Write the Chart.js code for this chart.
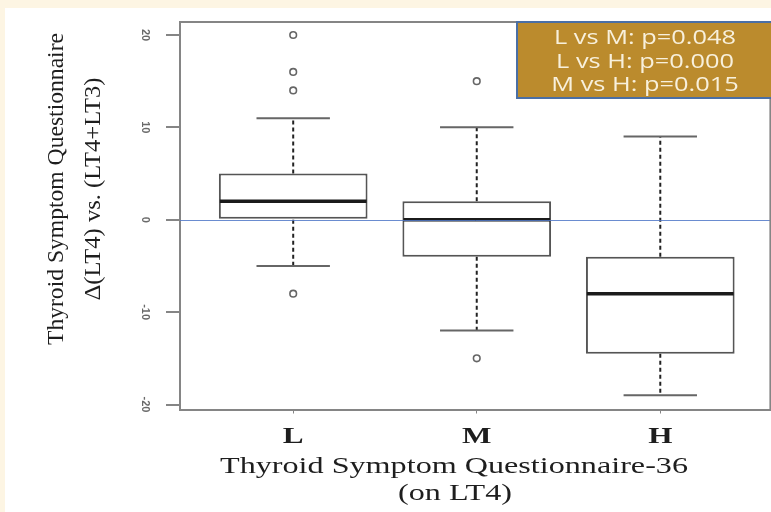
<!DOCTYPE html>
<html>
<head>
<meta charset="utf-8">
<script src="https://cdn.jsdelivr.net/npm/chart.js@4"></script>
<style>
  html, body { margin: 0; padding: 0; background: #fdf5e3; overflow: hidden; width: 771px; height: 512px; }
  canvas { display: block; }
</style>
</head>
<body>
<canvas id="chart" width="776" height="512"></canvas>
<script>
// Groups of the Thyroid Symptom Questionnaire-36 score (on LT4)
const categories = ['L', 'M', 'H'];
const groupPositions = [1, 2, 3];

// Five-number summaries of the change, LT4 vs. LT4+LT3
const whiskerLow  = [-5, -12, -19];
const quartile1   = [0, -4, -14.5];
const medians     = [2, 0, -8];
const quartile3   = [5, 2, -4];
const whiskerHigh = [11, 10, 9];

// Outlying observations per group
const outlierGroups = ['L', 'L', 'L', 'L', 'M', 'M'];
const outlierValues = [20, 16, 14, -8, 15, -15];

// Axis ticks
const yTickValues = [-20, -10, 0, 10, 20];

// Pairwise comparisons
const comparisonLabels = ['L vs M: p=0.048', 'L vs H: p=0.000', 'M vs H: p=0.015'];

const boxData = groupPositions.map((x, i) => ({ x: x, y: [quartile1[i], quartile3[i]] }));
const outlierData = outlierGroups.map((g, i) => ({ x: groupPositions[categories.indexOf(g)], y: outlierValues[i] }));

const AXIS_GRAY = '#858585';

function stretchedText(ctx, text, x, y, targetWidth) {
  const w = ctx.measureText(text).width;
  const sx = targetWidth ? targetWidth / w : 1;
  ctx.save();
  ctx.translate(x, y);
  ctx.scale(sx, 1);
  ctx.fillText(text, 0, 0);
  ctx.restore();
}

const pagePlugin = {
  id: 'page',
  beforeDraw(chart) {
    const ctx = chart.ctx;
    ctx.save();
    ctx.fillStyle = '#fdf5e3';
    ctx.fillRect(0, 0, chart.width, chart.height);
    ctx.fillStyle = '#ffffff';
    ctx.fillRect(5, 8, chart.width - 5, chart.height - 8);
    ctx.restore();
  }
};

const boxPlotPlugin = {
  id: 'boxParts',
  beforeDatasetsDraw(chart) {
    const { ctx, scales: { x, y } } = chart;
    ctx.save();
    groupPositions.forEach((pos, i) => {
      const cx = x.getPixelForValue(pos);
      const capL = x.getPixelForValue(pos - 0.2);
      const capR = x.getPixelForValue(pos + 0.2);
      // dashed whiskers
      ctx.strokeStyle = '#222';
      ctx.lineWidth = 2;
      ctx.setLineDash([4, 3]);
      ctx.beginPath();
      ctx.moveTo(cx, y.getPixelForValue(quartile3[i]));
      ctx.lineTo(cx, y.getPixelForValue(whiskerHigh[i]));
      ctx.moveTo(cx, y.getPixelForValue(quartile1[i]));
      ctx.lineTo(cx, y.getPixelForValue(whiskerLow[i]));
      ctx.stroke();
      // whisker caps
      ctx.setLineDash([]);
      ctx.strokeStyle = '#666';
      ctx.beginPath();
      ctx.moveTo(capL, y.getPixelForValue(whiskerHigh[i]));
      ctx.lineTo(capR, y.getPixelForValue(whiskerHigh[i]));
      ctx.moveTo(capL, y.getPixelForValue(whiskerLow[i]));
      ctx.lineTo(capR, y.getPixelForValue(whiskerLow[i]));
      ctx.stroke();
    });
    ctx.restore();
  },
  afterDatasetsDraw(chart) {
    const { ctx, chartArea, scales: { x, y } } = chart;
    ctx.save();
    // medians
    const halfBox = 0.405;
    ctx.strokeStyle = '#1b1b1b';
    ctx.lineWidth = 3.5;
    groupPositions.forEach((pos, i) => {
      const py = y.getPixelForValue(medians[i]);
      ctx.beginPath();
      ctx.moveTo(x.getPixelForValue(pos - halfBox) + 1, py);
      ctx.lineTo(x.getPixelForValue(pos + halfBox) - 1, py);
      ctx.stroke();
    });
    // reference line at zero
    const y0 = Math.round(y.getPixelForValue(0)) + 0.5;
    ctx.strokeStyle = 'rgba(80,120,200,0.85)';
    ctx.lineWidth = 1;
    ctx.beginPath();
    ctx.moveTo(chartArea.left, y0);
    ctx.lineTo(chartArea.right, y0);
    ctx.stroke();
    // frame top and right
    ctx.strokeStyle = AXIS_GRAY;
    ctx.lineWidth = 2;
    ctx.beginPath();
    ctx.moveTo(chartArea.left - 1, chartArea.top);
    ctx.lineTo(chartArea.right, chartArea.top);
    ctx.moveTo(chartArea.right, chartArea.top);
    ctx.lineTo(chartArea.right, chartArea.bottom);
    ctx.stroke();
    ctx.restore();
  },
  afterDraw(chart) {
    const { ctx, scales: { x, y } } = chart;
    ctx.save();
    // y tick labels, written along the axis
    ctx.fillStyle = '#6a6a6a';
    ctx.font = 'bold 11px "Liberation Sans"';
    ctx.textAlign = 'center';
    ctx.textBaseline = 'middle';
    yTickValues.forEach(v => {
      ctx.save();
      ctx.translate(145, y.getPixelForValue(v));
      ctx.rotate(Math.PI / 2);
      ctx.fillText(String(v), 0, 0);
      ctx.restore();
    });
    // y axis title
    ctx.fillStyle = '#1e1e1e';
    ctx.font = '23px "Liberation Serif"';
    const titleY = 189;
    [['Thyroid Symptom Questionnaire', 57, 312], ['\u0394(LT4) vs. (LT4+LT3)', 94, 223]].forEach(([t, cx, len]) => {
      ctx.save();
      ctx.translate(cx, titleY);
      ctx.rotate(-Math.PI / 2);
      stretchedText(ctx, t, 0, 0, len);
      ctx.restore();
    });
    // category labels
    ctx.font = 'bold 24px "Liberation Serif"';
    categories.forEach((c, i) => {
      ctx.save();
      ctx.translate(x.getPixelForValue(groupPositions[i]), 437);
      ctx.scale(1.3, 1);
      ctx.fillText(c, 0, 0);
      ctx.restore();
    });
    // x axis title
    ctx.font = '23px "Liberation Serif"';
    stretchedText(ctx, 'Thyroid Symptom Questionnaire-36', 454, 467, 468);
    stretchedText(ctx, '(on LT4)', 455, 494, 114);
    // comparison box
    const bx = 517, by = 22, bw = 265, bh = 76;
    ctx.fillStyle = '#bb8b2d';
    ctx.fillRect(bx, by, bw, bh);
    ctx.strokeStyle = '#4a6fa5';
    ctx.lineWidth = 2;
    ctx.strokeRect(bx, by, bw, bh);
    ctx.fillStyle = '#f8f0dc';
    ctx.font = '20px "Open Sans"';
    const sx = 182 / ctx.measureText(comparisonLabels[0]).width;
    comparisonLabels.forEach((t, i) => {
      ctx.save();
      ctx.translate(645, 38.5 + i * 23.5);
      ctx.scale(sx, 1);
      ctx.fillText(t, 0, 0);
      ctx.restore();
    });
    ctx.restore();
  }
};

new Chart(document.getElementById('chart'), {
  type: 'bar',
  data: {
    datasets: [
      {
        label: 'IQR',
        data: boxData,
        backgroundColor: '#ffffff',
        borderColor: '#555555',
        borderWidth: 2,
        borderSkipped: false,
        categoryPercentage: 1,
        barPercentage: 0.81,
        order: 2
      },
      {
        type: 'scatter',
        label: 'Outliers',
        data: outlierData,
        pointStyle: 'circle',
        pointRadius: 3.3,
        pointBorderWidth: 1.6,
        pointBorderColor: '#666666',
        pointBackgroundColor: 'rgba(255,255,255,0)',
        order: 1
      }
    ]
  },
  options: {
    responsive: false,
    animation: false,
    devicePixelRatio: 1,
    layout: { padding: { top: 22, left: 0, right: 0, bottom: 0 } },
    plugins: {
      legend: { display: false },
      tooltip: { enabled: false }
    },
    scales: {
      x: {
        type: 'linear',
        offset: false,
        min: 0.3832,
        max: 3.60,
        afterBuildTicks: s => { s.ticks = groupPositions.map(v => ({ value: v })); },
        afterFit: s => { s.height = 102.5; },
        ticks: { display: false },
        grid: { display: true, offset: false, drawOnChartArea: false, drawTicks: true, tickLength: 4, color: AXIS_GRAY, lineWidth: 1 },
        border: { display: true, color: AXIS_GRAY, width: 2 }
      },
      y: {
        type: 'linear',
        min: -20.541,
        max: 21.407,
        afterBuildTicks: s => { s.ticks = yTickValues.map(v => ({ value: v })); },
        afterFit: s => { s.width = 180; },
        ticks: { display: false },
        grid: { display: true, drawOnChartArea: false, drawTicks: true, tickLength: 14, color: AXIS_GRAY, lineWidth: 2 },
        border: { display: true, color: AXIS_GRAY, width: 2 }
      }
    }
  },
  plugins: [pagePlugin, boxPlotPlugin]
});
</script>
</body>
</html>
